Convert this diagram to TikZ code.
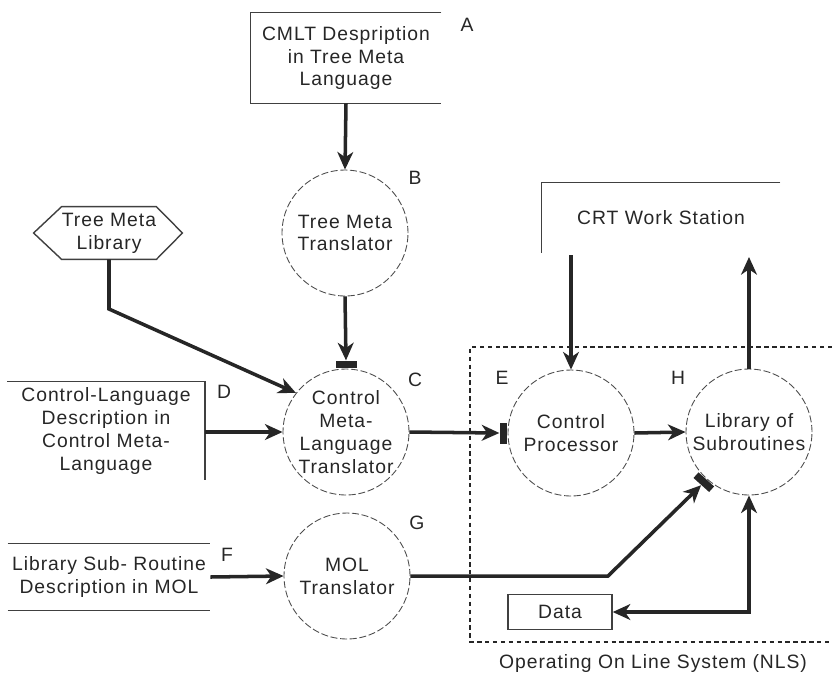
\documentclass[tikz,border=0pt]{standalone}
\usepackage{fontspec}
\setmainfont{Liberation Sans}[LetterSpace=5]
\usetikzlibrary{calc}
\usetikzlibrary{arrows.meta}
\usetikzlibrary{positioning}

\tikzset{
 proc/.style={circle,draw=black!70,dash pattern=on 4pt off 1.5pt,line width=0.5pt,minimum size=2.52cm,inner sep=0pt,align=center},
 conn/.style={black!85,line width=2pt},
 plate/.style={black!75,line width=0.8pt},
 tipbar/.style={fill=black!85,minimum width=0.42cm,minimum height=0.15cm,inner sep=0pt,anchor=south},
 txt/.style={align=center,inner sep=0pt},
 tag/.style={inner sep=0pt}
}

\begin{document}
\begin{tikzpicture}[x=0.02cm,y=-0.02cm,>={Stealth[length=10pt,width=9pt,inset=3pt]},font=\fontsize{11}{13}\selectfont,text=black!85]
\useasboundingbox (0,0) rectangle (832,674);

% inputs
\node[txt,minimum width=3.8cm,minimum height=1.8cm] (cmlt) at (346,58) {CMLT Despription\\in Tree Meta\\Language};
\draw[plate] (cmlt.north east) -| (cmlt.south west) -- (cmlt.south east);
\node[txt,minimum width=1.88cm,minimum height=1.04cm] (tml) at (109,233) {Tree Meta\\Library};
\draw[plate] (tml.north west) -- (tml.north east) -- ($(tml.east)+(26,0)$) -- (tml.south east)
 -- (tml.south west) -- ($(tml.west)+(-28,0)$) -- cycle;
\node[txt,minimum width=3.94cm,minimum height=1.96cm] (cld) at (106,431) {Control-Language\\Description in\\Control Meta-\\Language};
\draw[plate] (cld.north west) -- (cld.north east) -- (cld.south east);
\node[txt,minimum width=4.04cm,minimum height=1.32cm] (lsr) at (109,577) {Library Sub- Routine\\Description in MOL};
\draw[plate] (lsr.north west) -- (lsr.north east);
\draw[plate] (lsr.south west) -- (lsr.south east);

% translators and processors
\node[proc] (tmt) at (345,233) {Tree Meta\\Translator};
\node[proc] (cml) at (346,432) {Control\\Meta-\\Language\\Translator};
\node[proc] (mol) at (347,576) {MOL\\Translator};
\node[proc] (cp) at (571,433) {Control\\Processor};
\node[proc] (lib) at (749,432) {Library of\\Subroutines};

% workstation and data
\node[txt,minimum width=4.76cm,minimum height=1.4cm] (crt) at (661,218) {CRT Work Station};
\draw[plate] (crt.north east) -- (crt.north west) -- (crt.south west);
\node[plate,draw,txt,text=black!85,minimum width=2.08cm,minimum height=0.7cm] (data) at (560,612) {Data};
\draw[black!85,line width=0.7pt,dash pattern=on 2.5pt off 2pt] (832,347) -| (470,642) -- (832,642);
\node (nls) at (653,663) {Operating On Line System (NLS)};

% letters
\node[tag] (la) at (467,25) {A};
\node[tag] (lb) at (415,178) {B};
\node[tag] (lc) at (415,380) {C};
\node[tag] (ld) at (224,392) {D};
\node[tag] (le) at (502,378) {E};
\node[tag] (lf) at (227,555) {F};
\node[tag] (lg) at (417,523) {G};
\node[tag] (lh) at (678,378) {H};

% bars at inputs
\node[tipbar] (cbar) at (cml.north) {};
\node[tipbar,rotate=90] (ebar) at (cp.west) {};
\node[tipbar,rotate=138] (hbar) at (lib.228) {};

% connectors
\coordinate (tmlbend) at (109,309);
\coordinate (molbend) at (608,576);
\coordinate (crtin) at (571,255);
\coordinate (crtout) at (749,257);
\draw[conn,->] (cmlt.south) -- (tmt.north);
\draw[conn,->] (tmt.south) -- (cbar.north);
\draw[conn,->] (tml.south) -- (tmlbend) -- (cml.142);
\draw[conn,->] (cml.west -| cld.east) -- (cml.west);
\draw[conn,->] (cml.east) -- (ebar.north);
\draw[conn,->] (cp.east) -- (lib.west);
\draw[conn,->] (lsr.east) -- (mol.west);
\draw[conn,->] (mol.east) -- (molbend) -- (hbar.north);
\draw[conn,<->] (data.east) -| (lib.south);
\draw[conn,->] (crtin) -- (crtin |- cp.north);
\draw[conn,->] (lib.north) -- (lib.north |- crtout);
\end{tikzpicture}
\end{document}
